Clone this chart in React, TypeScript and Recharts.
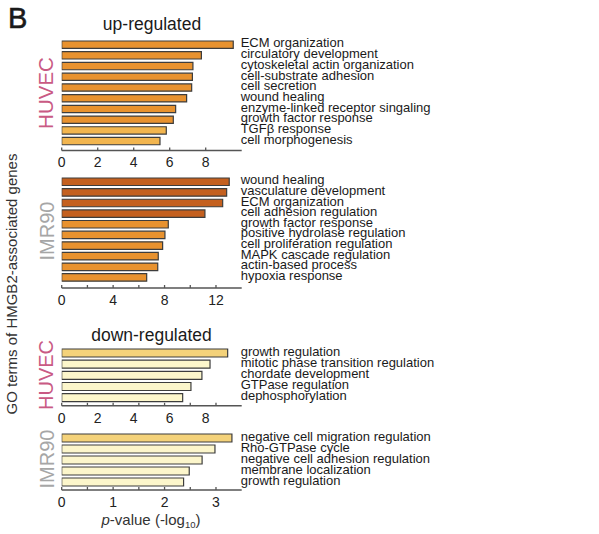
import React from "react";
import { BarChart, Bar, XAxis, YAxis, Cell } from "recharts";

// ---------- data ----------
const huvecUpTerms = [
  "ECM organization",
  "circulatory development",
  "cytoskeletal actin organization",
  "cell-substrate adhesion",
  "cell secretion",
  "wound healing",
  "enzyme-linked receptor singaling",
  "growth factor response",
  "TGFβ response",
  "cell morphogenesis",
];
const huvecUpValues = [9.53, 7.76, 7.29, 7.26, 7.22, 6.94, 6.33, 6.2, 5.81, 5.46];

const imr90UpTerms = [
  "wound healing",
  "vasculature development",
  "ECM organization",
  "cell adhesion regulation",
  "growth factor response",
  "positive hydrolase regulation",
  "cell proliferation regulation",
  "MAPK cascade regulation",
  "actin-based process",
  "hypoxia response",
];
const imr90UpValues = [13.03, 12.83, 12.52, 11.14, 8.29, 8.03, 7.85, 7.51, 7.47, 6.61];

const huvecDownTerms = [
  "growth regulation",
  "mitotic phase transition regulation",
  "chordate development",
  "GTPase regulation",
  "dephosphorylation",
];
const huvecDownValues = [9.22, 8.24, 7.79, 7.18, 6.72];

const imr90DownTerms = [
  "negative cell migration regulation",
  "Rho-GTPase cycle",
  "negative cell adhesion regulation",
  "membrane localization",
  "growth regulation",
];
const imr90DownValues = [3.31, 2.98, 2.73, 2.48, 2.37];

// tick labels / tick marks
const huvecUpLabels = [0, 2, 4, 6, 8];
const huvecUpMarks = [0, 2, 4, 6, 8];
const imr90UpLabels = [0, 4, 8, 12];
const imr90UpMarks = [0, 2, 4, 6, 8, 10, 12];
const huvecDownLabels = [0, 2, 4, 6, 8];
const huvecDownMarks = [0, 10 / 7, 20 / 7, 30 / 7, 40 / 7, 50 / 7, 60 / 7];
const imr90DownLabels = [0, 1, 2, 3];
const imr90DownMarks = [0, 0.5, 1, 1.5, 2, 2.5, 3];

// ---------- styles ----------
const ORANGE = "#E8922F";
const LIGHT_ORANGE = "#F2B54E";
const DARK_ORANGE = "#C4601F";
const GOLD = "#F4D27A";
const PALE = "#FCF6CB";

const huvecUpColors = [ORANGE, ORANGE, ORANGE, ORANGE, ORANGE, ORANGE, ORANGE, ORANGE, LIGHT_ORANGE, LIGHT_ORANGE];
const imr90UpColors = [DARK_ORANGE, DARK_ORANGE, DARK_ORANGE, DARK_ORANGE, ORANGE, ORANGE, ORANGE, ORANGE, ORANGE, ORANGE];
const huvecDownColors = [GOLD, PALE, PALE, PALE, PALE];
const imr90DownColors = [GOLD, PALE, PALE, PALE, PALE];

const FONT = "'Liberation Sans', Arial, Helvetica, sans-serif";
const AXIS_COLOR = "#555";
const PLOT_LEFT = 61.7;
const Y_AXIS_W = 357.3;

type PanelProps = {
  terms: string[];
  values: number[];
  colors: string[];
  domainMax: number;
  labels: number[];
  marks: number[];
  plotTop: number;
  step: number;
  axisY: number;
  barSize: number;
};

function Panel({ terms, values, colors, domainMax, labels, marks, plotTop, step, axisY, barSize }: PanelProps) {
  const data = terms.map((name, i) => ({ name, value: values[i] }));
  const allTicks = Array.from(new Set([...labels, ...marks])).sort((a, b) => a - b);
  const bandBottom = plotTop + step * terms.length;
  const pad = Math.max(0, axisY - bandBottom);
  const topM = 10;
  const xAxisH = 26;
  const height = axisY - plotTop + topM + xAxisH;

  const renderXTick = (props: any) => {
    const { x, y, payload } = props;
    const v = payload.value;
    const isMark = marks.some((m) => Math.abs(m - v) < 1e-9);
    const isLabel = labels.some((m) => Math.abs(m - v) < 1e-9);
    return (
      <g>
        {isMark && <line x1={x} x2={x} y1={y} y2={y - 3} stroke={AXIS_COLOR} strokeWidth={1.3} />}
        {isLabel && (
          <text x={x} y={y + 17} textAnchor="middle" fontSize={14} fontFamily={FONT} fill="#222">
            {v}
          </text>
        )}
      </g>
    );
  };

  const renderYTick = (props: any) => {
    const { x, y, payload } = props;
    return (
      <text x={x - 1} y={y + 3} textAnchor="start" fontSize={13} fontFamily={FONT} fill="#1a1a1a">
        {payload.value}
      </text>
    );
  };

  return (
    <div style={{ position: "absolute", left: 0, top: plotTop - topM }}>
      <BarChart
        width={599}
        height={height}
        data={data}
        layout="vertical"
        margin={{ top: topM, right: 0, bottom: 0, left: PLOT_LEFT }}
        barSize={barSize}
      >
        <XAxis
          type="number"
          domain={[0, domainMax]}
          ticks={allTicks}
          interval={0}
          allowDataOverflow
          tickLine={false}
          tickSize={0}
          tickMargin={0}
          height={xAxisH}
          axisLine={{ stroke: AXIS_COLOR, strokeWidth: 1.5 }}
          tick={renderXTick}
        />
        <YAxis
          type="category"
          dataKey="name"
          orientation="right"
          width={Y_AXIS_W}
          interval={0}
          axisLine={false}
          tickLine={false}
          tickSize={0}
          tickMargin={0}
          padding={{ top: 0, bottom: pad }}
          tick={renderYTick}
        />
        <Bar dataKey="value" isAnimationActive={false} stroke="#3d3d3d" strokeWidth={1.2}>
          {data.map((d, i) => (
            <Cell key={d.name + i} fill={colors[i]} />
          ))}
        </Bar>
      </BarChart>
    </div>
  );
}

export default function App() {
  return (
    <div
      style={{
        position: "absolute",
        left: 0,
        top: 0,
        width: 599,
        height: 534,
        background: "#fff",
        fontFamily: FONT,
      }}
    >
      <Panel
        terms={huvecUpTerms}
        values={huvecUpValues}
        colors={huvecUpColors}
        domainMax={10}
        labels={huvecUpLabels}
        marks={huvecUpMarks}
        plotTop={38.6}
        step={10.72}
        axisY={150}
        barSize={7.3}
      />
      <Panel
        terms={imr90UpTerms}
        values={imr90UpValues}
        colors={imr90UpColors}
        domainMax={14}
        labels={imr90UpLabels}
        marks={imr90UpMarks}
        plotTop={176}
        step={10.63}
        axisY={288}
        barSize={7.5}
      />
      <Panel
        terms={huvecDownTerms}
        values={huvecDownValues}
        colors={huvecDownColors}
        domainMax={10}
        labels={huvecDownLabels}
        marks={huvecDownMarks}
        plotTop={346.9}
        step={11.17}
        axisY={405.7}
        barSize={8}
      />
      <Panel
        terms={imr90DownTerms}
        values={imr90DownValues}
        colors={imr90DownColors}
        domainMax={3.5}
        labels={imr90DownLabels}
        marks={imr90DownMarks}
        plotTop={432}
        step={11}
        axisY={490}
        barSize={8}
      />
      <svg
        width={599}
        height={534}
        style={{ position: "absolute", left: 0, top: 0, pointerEvents: "none" }}
        fontFamily={FONT}
      >
        <text x={8} y={28} fontSize={29} fill="#1a1a1a" stroke="#1a1a1a" strokeWidth={0.6}>B</text>
        <text x={152} y={30} fontSize={17.5} textAnchor="middle" fill="#1a1a1a">up-regulated</text>
        <text x={151.5} y={341} fontSize={17.5} textAnchor="middle" fill="#1a1a1a">down-regulated</text>
        <text transform="translate(53,93) rotate(-90)" fontSize={20.5} textAnchor="middle" fill="#C95A84">HUVEC</text>
        <text transform="translate(54,231) rotate(-90)" fontSize={20} textAnchor="middle" fill="#A6A6A6">IMR90</text>
        <text transform="translate(53,375) rotate(-90)" fontSize={20} textAnchor="middle" fill="#C95A84">HUVEC</text>
        <text transform="translate(54,459) rotate(-90)" fontSize={20} textAnchor="middle" fill="#A6A6A6">IMR90</text>
        <text transform="translate(17,284) rotate(-90)" fontSize={15} textAnchor="middle" fill="#333">
          GO terms of HMGB2-associated genes
        </text>
        <text x={151} y={525} fontSize={15} textAnchor="middle" fill="#333">
          <tspan fontStyle="italic">p</tspan>
          <tspan>-value (-log</tspan>
          <tspan fontSize={9.5} dy={3}>10</tspan>
          <tspan dy={-3}>)</tspan>
        </text>
      </svg>
    </div>
  );
}
